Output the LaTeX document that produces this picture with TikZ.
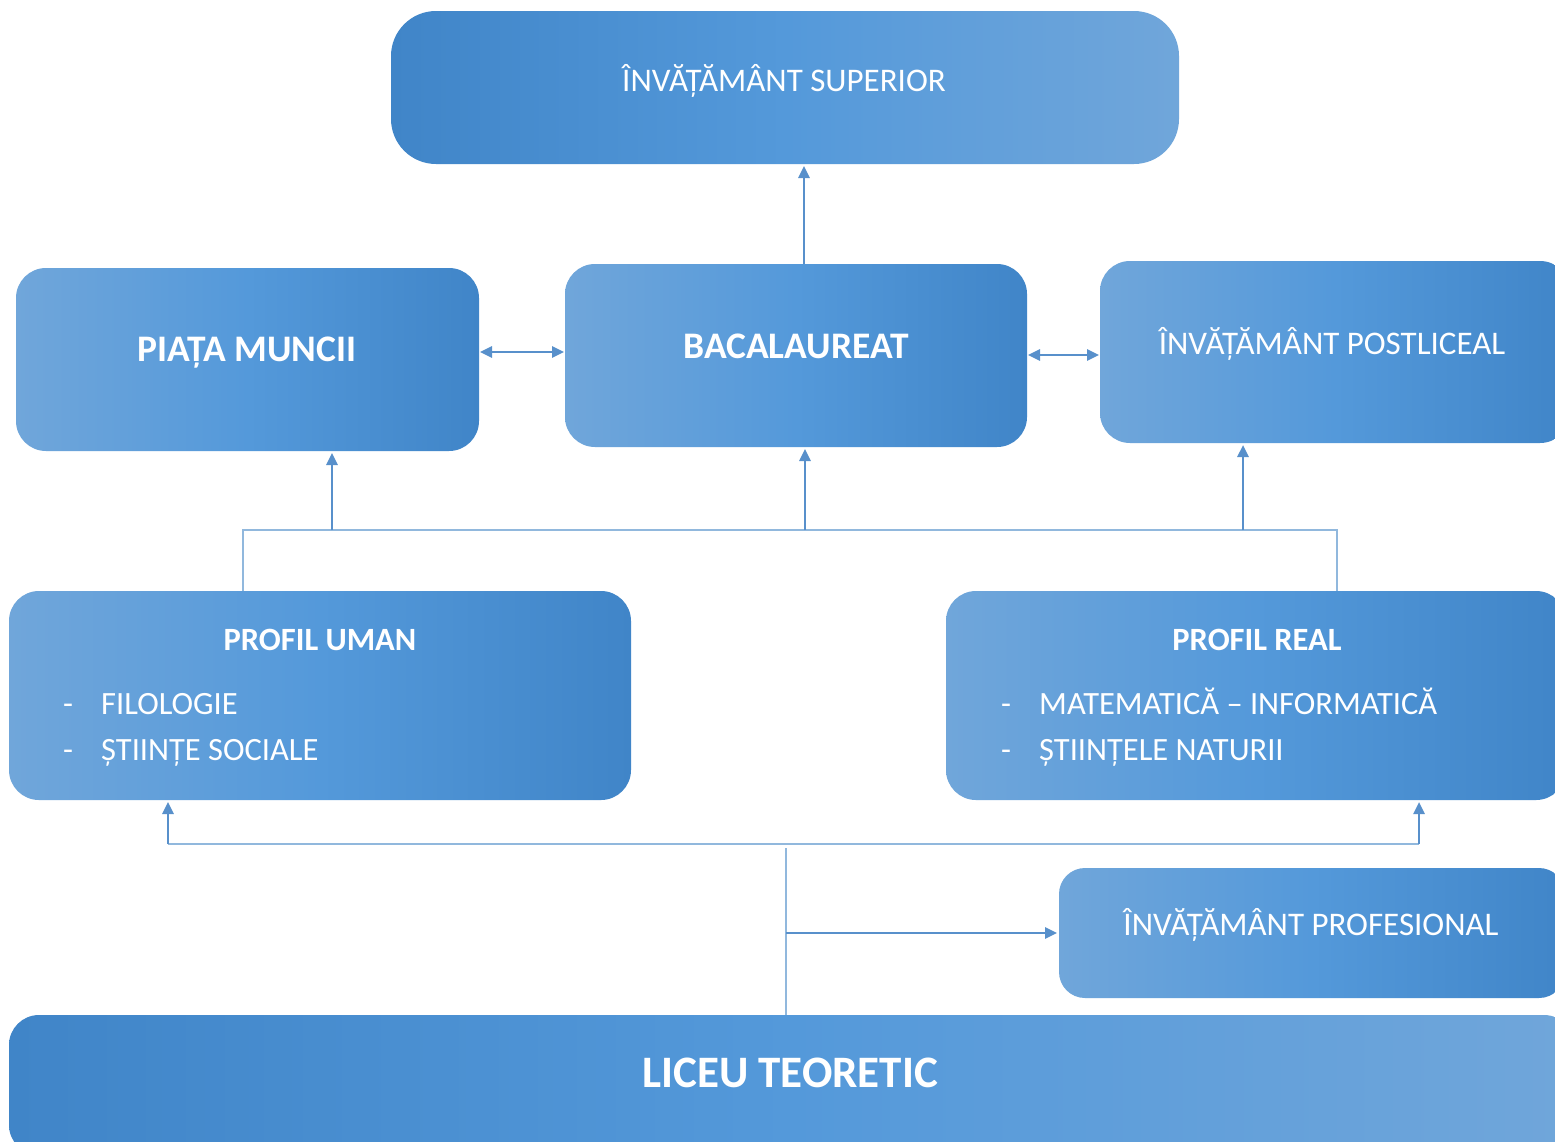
\documentclass[tikz,border=0pt]{standalone}
\usepackage{fontspec}
\setmainfont{Carlito}
\usetikzlibrary{arrows.meta}
\definecolor{bdark}{RGB}{64,133,200}
\definecolor{bmid}{RGB}{84,153,218}
\definecolor{blight}{RGB}{112,166,218}
\definecolor{arrC}{RGB}{88,144,203}
\definecolor{busC}{RGB}{145,184,221}
\begin{document}
\begin{tikzpicture}[x=1pt,y=-1pt,
  box/.style={anchor=north west, inner sep=0pt, outer sep=0pt, draw=none, rounded corners=#1},
  box/.default=30pt,
  ld/.style={left color=blight, right color=bdark, middle color=bmid},
  dl/.style={left color=bdark, right color=blight, middle color=bmid},
  reg/.style={text=white, inner sep=0pt, anchor=base, font=\fontsize{33}{39}\selectfont},
  bld/.style={text=white, inner sep=0pt, anchor=base, font=\fontsize{37.5}{43}\selectfont\bfseries},
  ttl/.style={text=white, inner sep=0pt, anchor=base, font=\fontsize{32.5}{38}\selectfont\bfseries},
  big/.style={text=white, inner sep=0pt, anchor=base, font=\fontsize{45}{52}\selectfont\bfseries},
  item/.style={text=white, inner sep=0pt, anchor=base west, font=\fontsize{32.5}{38}\selectfont},
  dsh/.style={text=white, inner sep=0pt, anchor=base, font=\fontsize{32.5}{38}\selectfont},
  tip/.style={},
  arr/.style={draw=arrC, line width=2.6pt, -{Triangle[length=12pt,width=11pt]}, shorten >=2pt},
  darr/.style={draw=arrC, line width=2.6pt, {Triangle[length=12pt,width=11pt]}-{Triangle[length=12pt,width=11pt]}, shorten >=1pt, shorten <=1pt},
  bus/.style={draw=busC, line width=1.8pt}
]
\clip (0,0) rectangle (1555,1141);
\fill[white] (0,0) rectangle (1555,1141);

% boxes
\node[box=45pt, dl, minimum width=788pt, minimum height=153pt] (sup) at (391,11) {};
\node[box, ld, minimum width=463pt, minimum height=183pt] (piata) at (16,268) {};
\node[box, ld, minimum width=462pt, minimum height=183pt] (bac) at (565,264) {};
\node[box, ld, minimum width=470pt, minimum height=182pt] (post) at (1100,261) {};
\node[box, ld, minimum width=622pt, minimum height=209pt] (uman) at (9,591) {};
\node[box, ld, minimum width=620pt, minimum height=209pt] (real) at (946,591) {};
\node[box=26pt, ld, minimum width=506pt, minimum height=130pt] (prof) at (1059,868) {};
\node[box, dl, minimum width=1565pt, minimum height=140pt] (liceu) at (9,1015) {};

% texts
\node[reg] (sup-t) at (784,91) {ÎNVĂȚĂMÂNT SUPERIOR};
\node[bld] (piata-t) at (247,361) {PIAȚA MUNCII};
\node[bld] (bac-t) at (796,358) {BACALAUREAT};
\node[reg] (post-t) at (1332,354) {ÎNVĂȚĂMÂNT POSTLICEAL};
\node[reg] (prof-t) at (1311,935) {ÎNVĂȚĂMÂNT PROFESIONAL};
\node[ttl] (uman-t) at (320,650) {PROFIL UMAN};
\node[dsh] (u1d) at (68,714) {-};
\node[item] (u1) at (101,714) {FILOLOGIE};
\node[dsh] (u2d) at (68,760) {-};
\node[item] (u2) at (101,760) {ȘTIINȚE SOCIALE};
\node[ttl] (real-t) at (1257,650) {PROFIL REAL};
\node[dsh] (r1d) at (1006,714) {-};
\node[item] (r1) at (1039,714) {MATEMATICĂ – INFORMATICĂ};
\node[dsh] (r2d) at (1006,760) {-};
\node[item] (r2) at (1039,760) {ȘTIINȚELE NATURII};
\node[big] (liceu-t) at (790,1087) {LICEU TEORETIC};

% connectors
\coordinate (b0) at (804,0);
\draw[arr] (b0 |- bac.north) -- (b0 |- sup.south);
\coordinate (d1) at (0,352);
\draw[darr] (d1 -| piata.east) -- (d1 -| bac.west);
\coordinate (d2) at (0,355);
\draw[darr] (d2 -| bac.east) -- (d2 -| post.west);

\coordinate (busL) at (243,530);
\coordinate (busR) at (1337,530);
\draw[bus] (uman.north -| busL) -- (busL) -- (busR) -- (real.north -| busR);
\coordinate (a1) at (332,530);
\coordinate (a2) at (805,530);
\coordinate (a3) at (1243,530);
\draw[arr] (a1) -- (a1 |- piata.south);
\draw[arr] (a2) -- (a2 |- bac.south);
\draw[arr] (a3) -- (a3 |- post.south);

\coordinate (lL) at (168,844);
\coordinate (lR) at (1419,844);
\draw[bus] (lL) -- (lR);
\draw[arr] (lL) -- (lL |- uman.south);
\draw[arr] (lR) -- (lR |- real.south);
\coordinate (lc) at (786,848);
\draw[bus] (lc |- liceu.north) -- (lc);
\draw[arr] (lc |- prof.west) -- (prof.west);
\end{tikzpicture}
\end{document}
